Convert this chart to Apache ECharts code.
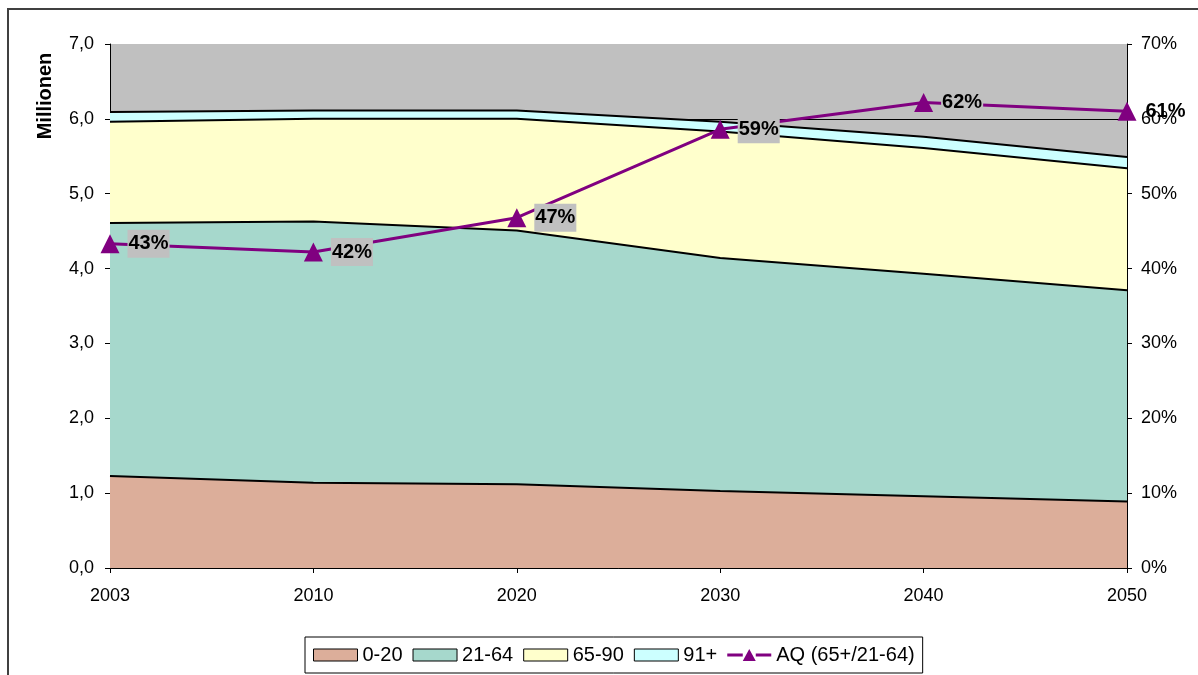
<!DOCTYPE html>
<html>
<head>
<meta charset="utf-8">
<script src="https://cdn.jsdelivr.net/npm/echarts@6/dist/echarts.min.js"></script>
<style>
html,body{margin:0;padding:0;background:#fff;}
#chart{width:1198px;height:675px;}
</style>
</head>
<body>
<div id="chart"></div>
<script>
const years = ['2003', '2010', '2020', '2030', '2040', '2050'];
const age0_20 = [1.23, 1.14, 1.12, 1.03, 0.96, 0.89];
const age21_64 = [3.38, 3.49, 3.39, 3.11, 2.97, 2.82];
const age65_90 = [1.35, 1.37, 1.49, 1.69, 1.68, 1.63];
const age91plus = [0.13, 0.11, 0.11, 0.13, 0.15, 0.15];
const aq = [43.3, 42.2, 46.8, 58.6, 62.2, 61.0];
const seriesNames = ['0-20', '21-64', '65-90', '91+', 'AQ (65+/21-64)'];
const axisTitle = 'Millionen';

const FONT = 'Arial, "Liberation Sans", sans-serif';
const fills = ['#DCAE9A', '#A6D8CC', '#FFFFCC', '#CCFFFF'];
const purple = '#800080';

const chart = echarts.init(document.getElementById('chart'));

function areaSeries(name, data, color) {
  return {
    name: name,
    type: 'line',
    stack: 'pop',
    data: data,
    symbol: 'none',
    smooth: false,
    yAxisIndex: 0,
    lineStyle: { color: '#000', width: 2 },
    itemStyle: { color: color },
    areaStyle: { color: color, opacity: 1 },
    z: 2,
    emphasis: { disabled: true }
  };
}

const stacks = [age0_20, age21_64, age65_90, age91plus];
const aqIcon = 'path://M0,4.5 L15.5,4.5 L15.5,7.5 L0,7.5 Z M15.5,12 L22,0 L28.5,12 Z M28.5,4.5 L44,4.5 L44,7.5 L28.5,7.5 Z';

const option = {
  animation: false,
  backgroundColor: '#fff',
  textStyle: { fontFamily: FONT },
  grid: {
    left: 110, right: 71, top: 44, bottom: 107,
    show: true, backgroundColor: '#C0C0C0', borderWidth: 0
  },
  graphic: [
    {
      type: 'rect', silent: true, z: 100,
      shape: { x: 8, y: 9, width: 1400, height: 900 },
      style: { fill: 'none', stroke: '#404040', lineWidth: 2 }
    },
    {
      type: 'text', silent: true, z: 100,
      x: 45, y: 96, rotation: Math.PI / 2,
      style: {
        text: axisTitle, font: 'bold 20px ' + FONT, fill: '#000',
        textAlign: 'center', textVerticalAlign: 'middle'
      }
    }
  ],
  legend: {
    left: 305, top: 637,
    padding: [8, 8],
    borderColor: '#000', borderWidth: 1,
    itemGap: 10, itemWidth: 44, itemHeight: 12,
    textStyle: { fontSize: 20, color: '#000', fontFamily: FONT },
    selectedMode: false,
    data: seriesNames.map((n, i) => i < 4
      ? { name: n, icon: 'rect', itemStyle: { color: fills[i], borderColor: '#000', borderWidth: 1 } }
      : { name: n, icon: aqIcon, itemStyle: { color: purple, borderWidth: 0 } })
  },
  xAxis: {
    type: 'category',
    data: years,
    boundaryGap: false,
    axisLine: { show: true, lineStyle: { color: '#000', width: 1 } },
    axisTick: { show: true, inside: false, length: 5, lineStyle: { color: '#000' } },
    axisLabel: { color: '#000', fontSize: 18, margin: 19, fontFamily: FONT },
    splitLine: { show: false }
  },
  yAxis: [
    {
      type: 'value', min: 0, max: 7, interval: 1,
      axisLine: { show: true, lineStyle: { color: '#000', width: 1 } },
      axisTick: { show: true, inside: false, length: 5, lineStyle: { color: '#000' } },
      axisLabel: {
        color: '#000', fontSize: 18, margin: 16, fontFamily: FONT,
        formatter: v => v.toFixed(1).replace('.', ',')
      },
      splitLine: { show: true, showMaxLine: false, lineStyle: { color: '#000', width: 1 } }
    },
    {
      type: 'value', min: 0, max: 70, interval: 10, position: 'right',
      axisLine: { show: true, lineStyle: { color: '#000', width: 1 } },
      axisTick: { show: true, inside: false, length: 5, lineStyle: { color: '#000' } },
      axisLabel: { color: '#000', fontSize: 18, margin: 14, fontFamily: FONT, formatter: '{value}%' },
      splitLine: { show: false }
    }
  ],
  series: [
    ...stacks.map((d, i) => areaSeries(seriesNames[i], d, fills[i])),
    {
      name: seriesNames[4],
      type: 'line',
      yAxisIndex: 1,
      data: aq.map((v, i) => i === aq.length - 1
        ? { value: v, label: { backgroundColor: 'transparent' } }
        : v),
      symbol: 'triangle',
      symbolSize: 19,
      lineStyle: { color: purple, width: 3 },
      itemStyle: { color: purple },
      z: 10,
      emphasis: { disabled: true },
      label: {
        show: true,
        position: 'right',
        distance: 8,
        formatter: p => Math.round(p.value) + '%',
        fontSize: 20,
        fontWeight: 'bold',
        fontFamily: FONT,
        color: '#000',
        backgroundColor: '#C0C0C0',
        padding: [4, 1]
      }
    }
  ]
};

chart.setOption(option);
</script>
</body>
</html>
